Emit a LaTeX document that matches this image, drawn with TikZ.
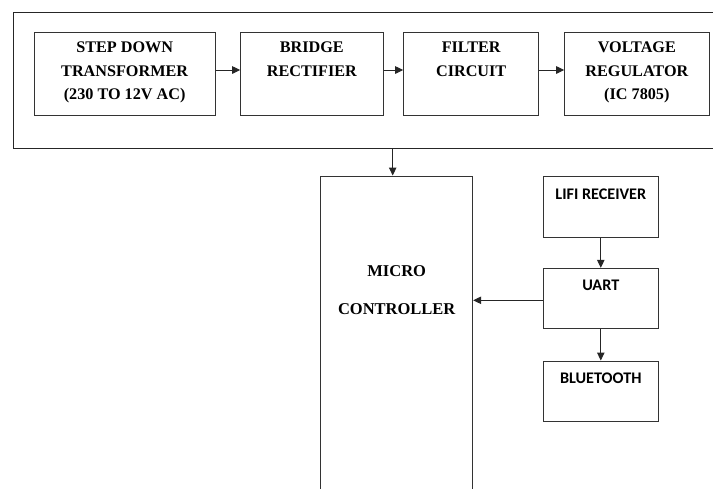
\documentclass[tikz,border=0pt]{standalone}
\usepackage{fontspec}
\setmainfont{Liberation Serif}
\newfontfamily\calib{Carlito}
\usetikzlibrary{arrows.meta}
\begin{document}
\begin{tikzpicture}[x=1pt,y=-1pt,
  box/.style={draw=black!80, line width=1pt, inner sep=0pt},
  ttext/.style={inner sep=0pt, align=center, font=\bfseries\fontsize{16.2}{23.3}\selectfont, anchor=north},
  rtext/.style={inner sep=0pt, align=center, font=\calib\bfseries\fontsize{16.2}{19}\selectfont, anchor=north},
  arr/.style={line width=1pt, draw=black!85, -{Triangle[length=8pt,width=7.5pt]}},
  frame/.style={draw=black!85, line width=1pt}]
\path[use as bounding box, clip] (0,0) rectangle (713,488);
% outer frame (open to the right)
\coordinate (ftr) at (725,12);
\coordinate (ftl) at (13,12);
\coordinate (fbl) at (13,148);
\coordinate (fbr) at (725,148);
\draw[frame] (ftr) -- (ftl) -- (fbl) -- (fbr);
\coordinate (pout) at (392.7,148);
% power supply row
\node[box, minimum width=180.7pt, minimum height=82.7pt] (sd) at (124.65,73.65) {};
\node[box, minimum width=142.3pt, minimum height=82.7pt] (br) at (311.85,73.65) {};
\node[box, minimum width=135pt, minimum height=82.7pt] (fc) at (471.2,73.65) {};
\node[box, minimum width=144.3pt, minimum height=82.7pt] (vr) at (636.85,73.65) {};
\node[ttext] (sdt) at ([yshift=-10.2pt]sd.north) {STEP DOWN\\TRANSFORMER\\(230 TO 12V AC)};
\node[ttext] (brt) at ([yshift=-10.2pt]br.north) {BRIDGE\\RECTIFIER};
\node[ttext] (fct) at ([yshift=-10.2pt]fc.north) {FILTER\\CIRCUIT};
\node[ttext] (vrt) at ([yshift=-10.2pt]vr.north) {VOLTAGE\\REGULATOR\\(IC 7805)};
\draw[arr] (sd.east |- 0,70) -- (br.west |- 0,70);
\draw[arr] (br.east |- 0,70) -- (fc.west |- 0,70);
\draw[arr] (fc.east |- 0,70) -- (vr.west |- 0,70);
% microcontroller
\node[box, minimum width=152pt, minimum height=330pt] (mc) at (396.7,341) {};
\node[ttext, font=\bfseries\fontsize{16.5}{38.5}\selectfont] (mct) at (396.7,265) {MICRO\\CONTROLLER};
\draw[arr] (pout) -- (mc.north -| pout);
% right column
\node[box, minimum width=115pt, minimum height=60.6pt] (lifi) at (600.8,207) {};
\node[box, minimum width=115pt, minimum height=60pt] (uart) at (600.8,298.3) {};
\node[box, minimum width=115pt, minimum height=60pt] (bt) at (600.8,391) {};
\node[rtext] (lifit) at ([yshift=-12.6pt]lifi.north) {LIFI RECEIVER};
\node[rtext] (uartt) at ([yshift=-12.4pt]uart.north) {UART};
\node[rtext] (btt) at ([yshift=-12.3pt]bt.north) {BLUETOOTH};
\draw[arr] (lifi.south) -- (uart.north);
\draw[arr] (uart.south) -- (bt.north);
\draw[arr] (uart.west |- 0,300.3) -- (mc.east |- 0,300.3);
\end{tikzpicture}
\end{document}
